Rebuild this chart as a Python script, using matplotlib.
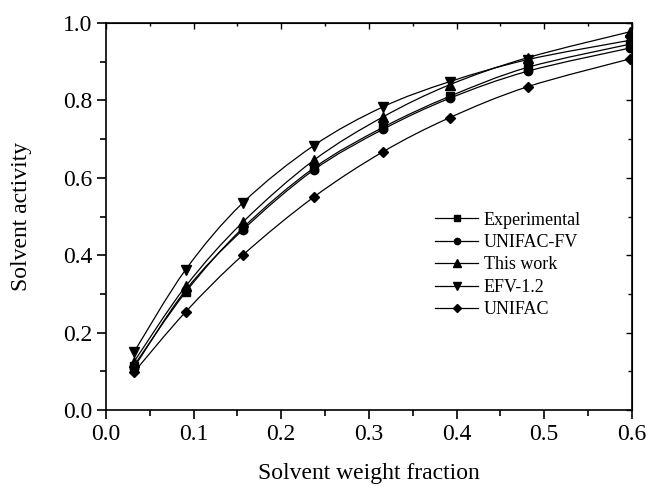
import numpy as np
import matplotlib
matplotlib.use("Agg")
import matplotlib.pyplot as plt
from matplotlib.path import Path
from matplotlib.patches import PathPatch
from matplotlib.lines import Line2D

plt.rcParams['font.family'] = 'Liberation Serif'
plt.rcParams['mathtext.fontset'] = 'stix'

# solvent weight fraction
x = [0.032, 0.091, 0.156, 0.237, 0.316, 0.392, 0.481, 0.598]

experimental = [0.115, 0.305, 0.470, 0.625, 0.730, 0.810, 0.885, 0.945]
unifac_fv = [0.110, 0.310, 0.465, 0.620, 0.725, 0.805, 0.875, 0.935]
this_work = [0.125, 0.320, 0.485, 0.645, 0.757, 0.840, 0.910, 0.977]
efv_12 = [0.150, 0.363, 0.535, 0.683, 0.783, 0.848, 0.905, 0.955]
unifac = [0.098, 0.254, 0.400, 0.550, 0.667, 0.755, 0.835, 0.907]

series = [
    ("Experimental", experimental, 's'),
    ("UNIFAC-FV", unifac_fv, 'o'),
    ("This work", this_work, '^'),
    ("EFV-1.2", efv_12, 'v'),
    ("UNIFAC", unifac, 'D'),
]


def smooth_path(xs, ys):
    # Catmull-Rom spline drawn as cubic bezier segments
    p = np.column_stack([xs, ys])
    p = np.vstack([p[0], p, p[-1]])
    verts = [p[1]]
    codes = [Path.MOVETO]
    for i in range(1, len(p) - 2):
        c1 = p[i] + (p[i + 1] - p[i - 1]) / 6.0
        c2 = p[i + 1] - (p[i + 2] - p[i]) / 6.0
        verts += [c1, c2, p[i + 1]]
        codes += [Path.CURVE4] * 3
    return Path(verts, codes)


fig = plt.figure(figsize=(6.5, 4.86), dpi=100)
ax = fig.add_axes([0.163, 0.156, 0.809, 0.797])

ms = {'s': 6, 'o': 6, '^': 7, 'v': 7, 'D': 5.5}
handles = []
for label, ys, m in series:
    ax.add_patch(PathPatch(smooth_path(x, ys), facecolor='none',
                           edgecolor='black', lw=0.9))
    ax.plot(x, ys, linestyle='none', marker=m, color='black', ms=ms[m])
    handles.append(Line2D([], [], color='black', lw=0.9, marker=m,
                          ms=ms[m] - 1.5, label=label))

ax.set_xlim(0.0, 0.6)
ax.set_ylim(0.0, 1.0)
ax.set_xticks(np.arange(0, 0.61, 0.1))
ax.set_yticks(np.arange(0, 1.01, 0.2))
ax.set_xticks(np.arange(0.05, 0.6, 0.1), minor=True)
ax.set_yticks(np.arange(0.1, 1.0, 0.2), minor=True)
ax.xaxis.set_major_formatter(matplotlib.ticker.FormatStrFormatter('%.1f'))
ax.yaxis.set_major_formatter(matplotlib.ticker.FormatStrFormatter('%.1f'))
ax.tick_params(which='both', direction='out', width=1.2, labelsize=17)
ax.tick_params(which='major', length=6.5)
ax.tick_params(which='minor', length=4)
for s in ax.spines.values():
    s.set_linewidth(1.2)

# inward ticks on top and right
top = ax.secondary_xaxis('top')
top.set_xticks(np.arange(0, 0.61, 0.1))
top.set_xticks(np.arange(0.05, 0.6, 0.1), minor=True)
top.tick_params(which='both', direction='in', labeltop=False, width=1.0)
top.tick_params(which='major', length=4)
top.tick_params(which='minor', length=2.5)
right = ax.secondary_yaxis('right')
right.set_yticks(np.arange(0, 1.01, 0.2))
right.set_yticks(np.arange(0.1, 1.0, 0.2), minor=True)
right.tick_params(which='both', direction='in', labelright=False, width=1.0)
right.tick_params(which='major', length=4)
right.tick_params(which='minor', length=3)

ax.set_xlabel("Solvent weight fraction", fontsize=17, labelpad=13)
ax.set_ylabel("Solvent activity", fontsize=17, labelpad=22)

ax.legend(handles=handles, loc='center left', bbox_to_anchor=(0.595, 0.375),
          frameon=False, fontsize=13, handlelength=2.4, handletextpad=0.3,
          labelspacing=0.3)

fig.savefig("out.png", dpi=100)
